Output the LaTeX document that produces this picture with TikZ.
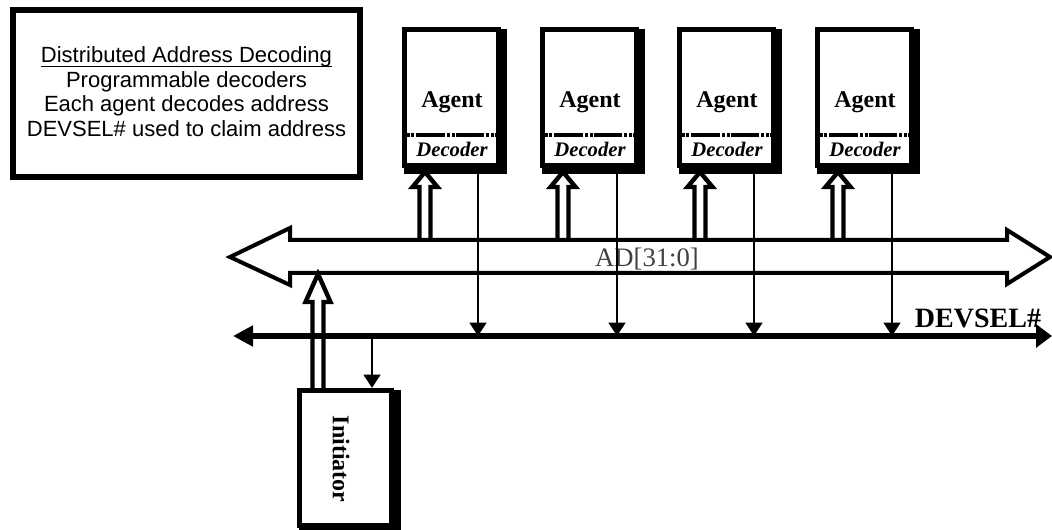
\documentclass[tikz,border=0pt]{standalone}
\usepackage{fontspec}
\setmainfont{Liberation Serif}
\newfontfamily\arialfont{Liberation Sans}
\usetikzlibrary{arrows.meta,backgrounds}

% hollow double-line arrow: foot, tip, head length
\newcommand{\hollowup}[3]{%
  \draw[hollow] ([shift={(-5.5,0)}]#1) -- ([shift={(-5.5,#3)}]#2) -- ([shift={(-12.5,#3)}]#2) -- (#2)
    -- ([shift={(12.5,#3)}]#2) -- ([shift={(5.5,#3)}]#2) -- ([shift={(5.5,0)}]#1);}

\tikzset{
  notebox/.style={draw, line width=4.5pt, inner sep=0pt, minimum width=260.25pt, minimum height=125.25pt},
  notetxt/.style={anchor=base, inner sep=0pt, font=\arialfont\fontsize{16.5}{18}\selectfont},
  agentbox/.style={draw, line width=3.6pt, fill=white, inner sep=0pt, minimum width=70.5pt, minimum height=102pt},
  initbox/.style={draw, line width=3.6pt, fill=white, inner sep=0pt, minimum width=69pt, minimum height=101.5pt},
  agentlbl/.style={anchor=base, inner sep=0pt, font=\fontsize{18}{20}\selectfont\bfseries},
  declbl/.style={anchor=base, inner sep=0pt, font=\fontsize{15.5}{17}\selectfont\bfseries\itshape},
  divider/.style={line width=2.4pt, dash pattern=on 2.25pt off 1.25pt on 2.25pt off 1.25pt on 2.25pt off 1.25pt on 22pt off 1.25pt on 2.25pt off 1.25pt on 2.25pt off 1.25pt on 21pt off 1.25pt},
  adbus/.style={draw, line width=3pt, fill=white, line join=miter},
  selbus/.style={line width=3.9pt, {Triangle[length=15pt,width=15pt]}-{Triangle[length=12pt,width=17pt]}},
  hollow/.style={line width=3.3pt, line join=miter},
  selarrow/.style={line width=1.9pt, -{Triangle[length=10pt,width=12.5pt]}},
}

\begin{document}
\begin{tikzpicture}[x=0.75pt,y=0.75pt,yscale=-1,xscale=1]
\useasboundingbox (0,0) rectangle (1052,530);

% note box
\node[notebox] (note) at (186.5,93.5) {};
\node[notetxt] (title) at (186.5,63) {Distributed Address Decoding};
\draw[line width=1.3pt] ([shift={(0,3.5)}]title.base west) -- ([shift={(0,3.5)}]title.base east);
\node[notetxt] (note1) at (186.5,88) {Programmable decoders};
\node[notetxt] (note2) at (186.5,112) {Each agent decodes address};
\node[notetxt] (note3) at (186.5,137) {DEVSEL\# used to claim address};

% agents
\node[agentbox] (agent1) at (451.5,97.5) {};
\node[agentbox] (agent2) at (589.5,97.5) {};
\node[agentbox] (agent3) at (726.5,97.5) {};
\node[agentbox] (agent4) at (864.5,97.5) {};
\begin{scope}[on background layer]
\fill ([shift={(2,2)}]agent1.north west) rectangle ([shift={(6,6)}]agent1.south east);
\fill ([shift={(2,2)}]agent2.north west) rectangle ([shift={(6,6)}]agent2.south east);
\fill ([shift={(2,2)}]agent3.north west) rectangle ([shift={(6,6)}]agent3.south east);
\fill ([shift={(2,2)}]agent4.north west) rectangle ([shift={(6,6)}]agent4.south east);
\end{scope}

\node[agentlbl] (name1) at (452,108) {Agent};
\node[agentlbl] (name2) at (590,108) {Agent};
\node[agentlbl] (name3) at (727,108) {Agent};
\node[agentlbl] (name4) at (865,108) {Agent};
\draw[divider] (agent1.west |- 0,135) -- (agent1.east |- 0,135);
\draw[divider] (agent2.west |- 0,135) -- (agent2.east |- 0,135);
\draw[divider] (agent3.west |- 0,135) -- (agent3.east |- 0,135);
\draw[divider] (agent4.west |- 0,135) -- (agent4.east |- 0,135);
\node[declbl] (dec1) at (452,157) {Decoder};
\node[declbl] (dec2) at (590,157) {Decoder};
\node[declbl] (dec3) at (727,157) {Decoder};
\node[declbl] (dec4) at (865,157) {Decoder};

% AD bus
\path[adbus] (230,257) -- (290,228) -- (290,240) -- (1007,240) -- (1007,230) -- (1050,257)
  -- (1007,284) -- (1007,273) -- (290,273) -- (290,285) -- cycle;
\node[inner sep=0pt, font=\fontsize{20}{22}\selectfont, text=black!75] (adlbl) at (647,259) {AD[31:0]};

% DEVSEL bus
\coordinate (selL) at (233,336);
\coordinate (selR) at (1052,336);
\draw[selbus] (selL) -- (selR);
\node[anchor=base, inner sep=0pt, font=\fontsize{21}{23}\selectfont\bfseries] (sellbl) at (978,328) {DEVSEL\#};

% initiator
\node[initbox] (init) at (345.5,458) {};
\begin{scope}[on background layer]
\fill ([shift={(2,2)}]init.north west) rectangle ([shift={(7,6)}]init.south east);
\end{scope}
\node[inner sep=0pt, rotate=-90, font=\fontsize{18}{20}\selectfont\bfseries] (initlbl) at (341,459) {Initiator};

% address inputs
\coordinate (adup1) at (425,240); \coordinate (tip1) at (425,172);
\coordinate (adup2) at (563,240); \coordinate (tip2) at (563,172);
\coordinate (adup3) at (700,240); \coordinate (tip3) at (700,172);
\coordinate (adup4) at (838,240); \coordinate (tip4) at (838,172);
\hollowup{adup1}{tip1}{15}
\hollowup{adup2}{tip2}{15}
\hollowup{adup3}{tip3}{15}
\hollowup{adup4}{tip4}{15}
\coordinate (initup) at (init.north -| 318,0);
\coordinate (addown) at (318,274);
\hollowup{initup}{addown}{28}

% DEVSEL drivers
\coordinate (sel1) at (478,336);
\coordinate (sel2) at (617,336);
\coordinate (sel3) at (754,336);
\coordinate (sel4) at (892,336);
\coordinate (selinit) at (372,336);
\draw[selarrow] (agent1.south -| sel1) -- (sel1);
\draw[selarrow] (agent2.south -| sel2) -- (sel2);
\draw[selarrow] (agent3.south -| sel3) -- (sel3);
\draw[selarrow] (agent4.south -| sel4) -- (sel4);
\draw[selarrow] (selinit) -- (selinit |- init.north);

\end{tikzpicture}
\end{document}
